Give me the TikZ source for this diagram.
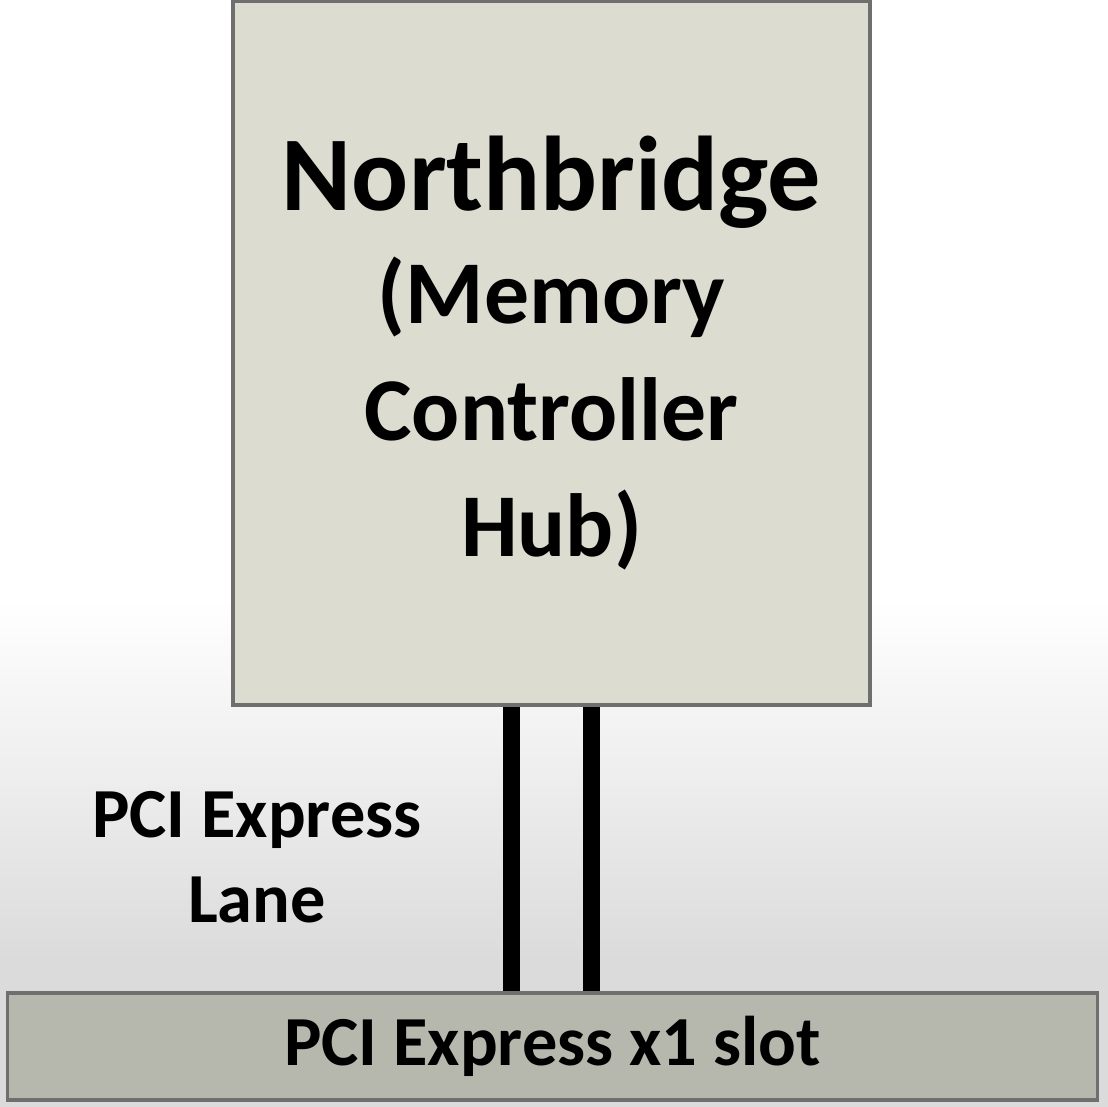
\documentclass[tikz,border=0pt]{standalone}
\usepackage{fontspec}
\setmainfont{Carlito}
\usetikzlibrary{positioning}
\definecolor{hubfill}{HTML}{DCDDD0}
\definecolor{slotfill}{HTML}{B6B7AD}
\definecolor{edgegray}{HTML}{6F6F6F}
\begin{document}
\begin{tikzpicture}[x=0.01cm, y=-0.01cm,
			chip/.style = {draw=edgegray, line width=1pt, inner sep=0pt},
			lane/.style = {line width=5.1pt, black},
			every node/.style = {align=center, font=\bfseries}]
			
			% background
			\useasboundingbox (0,0) rectangle (1108,1107);
			\fill[white] (0,0) rectangle (1108,600);
			\shade[top color=white, bottom color=black!14] (0,600) rectangle (1108,960);
			\fill[black!14] (0,960) rectangle (1108,1107);
			
			\node[chip, fill=hubfill, minimum width=6.37cm, minimum height=7.04cm,
				font=\bfseries\fontsize{25.5}{33.2}\selectfont] (nb) at (551.5,353)
				{{\fontsize{30.2}{33.2}\selectfont Northbridge}\\[-1pt] (Memory\\ Controller\\ Hub)};
			\node[chip, fill=slotfill, minimum width=10.89cm, minimum height=1.07cm,
				font=\bfseries\fontsize{20}{24}\selectfont] (slot) at (552.5,1046.5)
				{PCI Express x1 slot};
			\node[font=\bfseries\fontsize{20}{24.2}\selectfont] (lanelabel) at (257,857)
				{PCI Express\\ Lane};
			
			\draw[lane] ([xshift=-0.4cm]nb.south) -- ([xshift=-0.4cm]nb.south |- slot.north);
			\draw[lane] ([xshift=0.4cm]nb.south) -- ([xshift=0.4cm]nb.south |- slot.north);
			\end{tikzpicture}
\end{document}
